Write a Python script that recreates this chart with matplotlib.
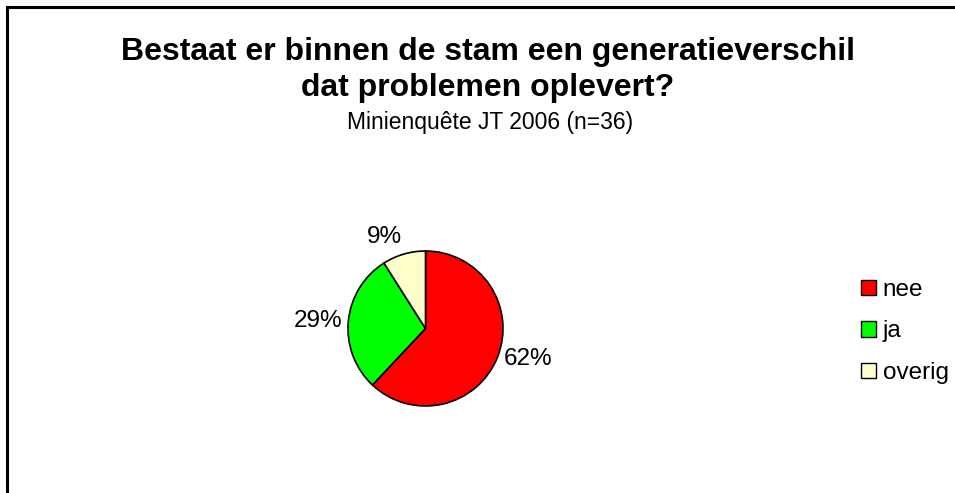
import matplotlib
matplotlib.use("Agg")
import matplotlib.pyplot as plt
from matplotlib.patches import Patch
from matplotlib.lines import Line2D

categories = ["nee", "ja", "overig"]
values = [62, 29, 9]
colors = ["#FF0000", "#00FF00", "#FFFFCC"]
title_lines = ["Bestaat er binnen de stam een generatieverschil", "dat problemen oplevert?"]
subtitle = "Minienquête JT 2006 (n=36)"

W, H = 955, 493
fig = plt.figure(figsize=(W / 100, H / 100), dpi=100)
fig.patch.set_facecolor("white")
plt.rcParams["font.family"] = ["Liberation Sans", "DejaVu Sans"]

# frame (top and left edge visible)
fig.add_artist(Line2D([7 / W, 7 / W], [0, 1 - 7 / H], color="black", lw=2.2, transform=fig.transFigure))
fig.add_artist(Line2D([7 / W, 1], [1 - 7 / H, 1 - 7 / H], color="black", lw=2.2, transform=fig.transFigure))

fig.text(488 / W, 1 - 52 / H, title_lines[0], ha="center", va="center", fontsize=23, fontweight="bold")
fig.text(488 / W, 1 - 88 / H, title_lines[1], ha="center", va="center", fontsize=23, fontweight="bold")
fig.text(490 / W, 1 - 123 / H, subtitle, ha="center", va="center", fontsize=16.5)

cx, cy, r = 425.5, 328.5, 77.5
ax = fig.add_axes([(cx - r) / W, (H - cy - r) / H, 2 * r / W, 2 * r / H])
wedges, texts = ax.pie(values, colors=colors, startangle=90, counterclock=False,
                       labels=[f"{v}%" for v in values], labeldistance=1.08,
                       wedgeprops=dict(edgecolor="black", linewidth=1.2),
                       textprops=dict(fontsize=17.5))
for t in texts:
    x, y = t.get_position()
    if y > 0.9:
        t.set_va("bottom")
ax.set_xlim(-1, 1)
ax.set_ylim(-1, 1)
ax.set_aspect("auto")

handles = [Patch(facecolor=c, edgecolor="black", linewidth=1.0) for c in colors]
fig.legend(handles, categories, loc="upper left", bbox_to_anchor=(861 / W, 1 - 279 / H),
           frameon=False, fontsize=17.5, handlelength=0.6, handleheight=0.6,
           handletextpad=0.3, labelspacing=0.8, borderaxespad=0, borderpad=0)

fig.savefig("out.png", dpi=100, facecolor="white")
